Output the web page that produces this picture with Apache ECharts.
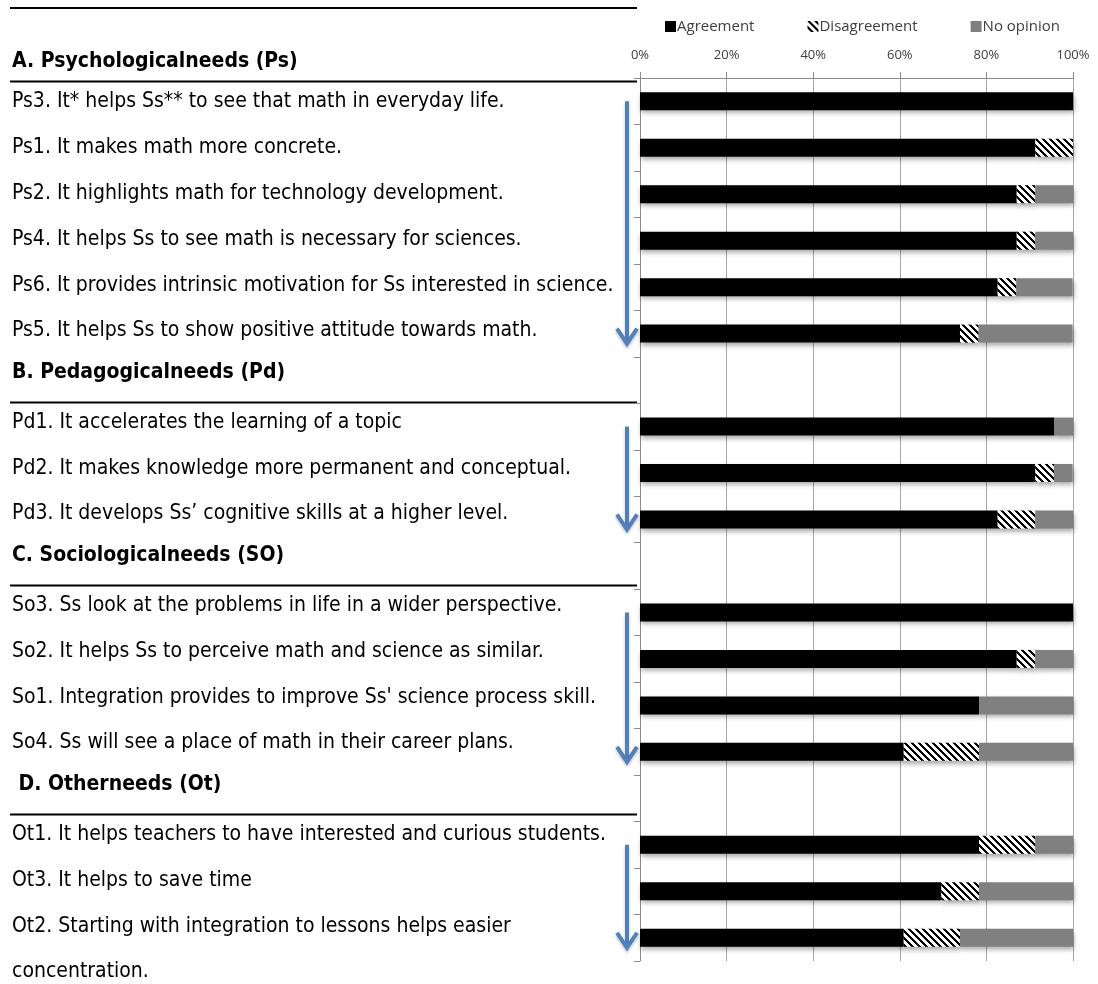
<!DOCTYPE html>
<html>
<head>
<meta charset="utf-8">
<script src="https://cdn.jsdelivr.net/npm/echarts@6/dist/echarts.min.js"></script>
<style>
  html, body { margin: 0; padding: 0; background: #fff; }
  #chart { width: 1098px; height: 984px; }
</style>
</head>
<body>
<div id="chart"></div>
<script>
// Teacher views on integrating math and science, grouped by need type.
// Blank rows in the category list carry the group headings.
const categories = [
  'Ps3. It* helps Ss** to see that math in everyday life.',
  'Ps1. It makes math more concrete.',
  'Ps2. It highlights math for technology development.',
  'Ps4. It helps Ss to see math is necessary for sciences.',
  'Ps6. It provides intrinsic motivation for Ss interested in science.',
  'Ps5. It helps Ss to show positive attitude towards math.',
  'B. Pedagogicalneeds (Pd)',
  'Pd1. It accelerates the learning of a topic',
  'Pd2. It makes knowledge more permanent and conceptual.',
  'Pd3. It develops Ss’ cognitive skills at a higher level.',
  'C. Sociologicalneeds (SO)',
  'So3. Ss look at the problems in life in a wider perspective.',
  'So2. It helps Ss to perceive math and science as similar.',
  "So1. Integration provides to improve Ss' science process skill.",
  'So4. Ss will see a place of math in their career plans.',
  ' D. Otherneeds (Ot)',
  'Ot1. It helps teachers to have interested and curious students.',
  'Ot3. It helps to save time',
  'Ot2. Starting with integration to lessons helps easier'
];
const firstHeading = 'A. Psychologicalneeds (Ps)';
const headingRows = ['B. Pedagogicalneeds (Pd)', 'C. Sociologicalneeds (SO)', ' D. Otherneeds (Ot)'];
const wrappedTail = { 'Ot2. Starting with integration to lessons helps easier': 'concentration.' };

// Percent of respondents per statement ('-' = no bar)
const agreement    = [100, 91.3, 87.0, 87.0, 82.6, 73.9, '-', 95.7, 91.3, 82.6, '-', 100, 87.0, 78.3, 60.9, '-', 78.3, 69.6, 60.9];
const disagreement = ['-', 8.7, 4.3, 4.3, 4.3, 4.3, '-', '-', 4.3, 8.7, '-', '-', 4.3, '-', 17.4, '-', 13.0, 8.7, 13.0];
const noOpinion    = ['-', '-', 8.7, 8.7, 13.0, 21.7, '-', 4.3, 4.3, 8.7, '-', '-', 8.7, 21.7, 21.7, '-', 8.7, 21.7, 26.1];

const xTicks = [0, 20, 40, 60, 80, 100];
const seriesNames = ['Agreement', 'Disagreement', 'No opinion'];

const TEXT_FONT = "'Liberation Sans Narrow', 'Arial Narrow', 'DejaVu Sans Condensed', sans-serif";
const SMALL_FONT = "'Open Sans', Lato, sans-serif";
const ARROW_BLUE = '#4F81BD';

// Black-on-white diagonal hatch for the disagreement segments
function makeHatch() {
  const size = 7;
  const c = document.createElement('canvas');
  c.width = size; c.height = size;
  const ctx = c.getContext('2d');
  ctx.fillStyle = '#ffffff';
  ctx.fillRect(0, 0, size, size);
  ctx.fillStyle = '#000000';
  for (let y = 0; y < size; y++) {
    for (let x = 0; x < size; x++) {
      if ((((x - y) % size) + size) % size < 3) ctx.fillRect(x, y, 1, 1);
    }
  }
  return c;
}
const hatch = { image: makeHatch(), repeat: 'repeat' };

const barShadow = {
  shadowColor: 'rgba(0,0,0,0.35)',
  shadowBlur: 5,
  shadowOffsetX: 1,
  shadowOffsetY: 3
};

const chart = echarts.init(document.getElementById('chart'), null, { renderer: 'canvas' });

const option = {
  animation: false,
  backgroundColor: '#ffffff',
  title: {
    text: firstHeading,
    left: 12,
    top: 51,
    padding: 0,
    textStyle: { fontFamily: TEXT_FONT, fontSize: 21, fontWeight: 'bold', color: '#000' }
  },
  legend: {
    data: seriesNames,
    left: 665,
    top: 19,
    padding: 0,
    itemWidth: 11,
    itemHeight: 11,
    itemGap: 53,
    icon: 'rect',
    textStyle: { fontFamily: SMALL_FONT, fontSize: 15, color: '#404040', padding: [0, 0, 0, -4] }
  },
  grid: [
    // bars
    { left: 640, right: 25, top: 78, bottom: 23, containLabel: false },
    // statement text column
    { left: 640, right: 25, top: 79, height: 870, containLabel: false }
  ],
  xAxis: [
    {
      type: 'value',
      gridIndex: 0,
      position: 'top',
      min: 0,
      max: 100,
      interval: 20,
      axisLine: { show: true, lineStyle: { color: '#8c8c8c', width: 1 } },
      axisTick: { show: true, length: 6, lineStyle: { color: '#8c8c8c' } },
      splitLine: { show: true, lineStyle: { color: '#a6a6a6', width: 1 } },
      axisLabel: {
        margin: 16,
        fontFamily: SMALL_FONT,
        fontSize: 13,
        color: '#404040',
        formatter: v => (xTicks.indexOf(v) >= 0 ? v + '%' : '')
      }
    },
    { type: 'value', gridIndex: 1, min: 0, max: 100, show: false }
  ],
  yAxis: [
    {
      type: 'category',
      gridIndex: 0,
      inverse: true,
      data: categories,
      axisLine: { show: true, lineStyle: { color: '#8c8c8c', width: 1 } },
      axisTick: { show: true, length: 6, lineStyle: { color: '#8c8c8c' } },
      splitLine: { show: false },
      axisLabel: { show: false }
    },
    {
      type: 'category',
      gridIndex: 1,
      inverse: true,
      data: categories,
      axisLine: { show: false },
      axisTick: { show: false },
      splitLine: { show: false },
      axisLabel: {
        align: 'left',
        margin: 628,
        interval: 0,
        fontFamily: TEXT_FONT,
        fontSize: 21,
        color: '#000',
        formatter: name => headingRows.indexOf(name) >= 0 ? '' : name
      }
    }
  ],
  series: [
    {
      name: seriesNames[0], type: 'bar', stack: 'total', barWidth: 18,
      itemStyle: Object.assign({ color: '#000000' }, barShadow),
      data: agreement
    },
    {
      name: seriesNames[1], type: 'bar', stack: 'total', barWidth: 18,
      itemStyle: Object.assign({ color: hatch }, barShadow),
      data: disagreement
    },
    {
      name: seriesNames[2], type: 'bar', stack: 'total', barWidth: 18,
      itemStyle: Object.assign({ color: '#808080' }, barShadow),
      data: noOpinion
    }
  ]
};
chart.setOption(option);

// Headings, table rules and group arrows, placed from the category scales
function barY(idx) { return chart.convertToPixel({ yAxisIndex: 0 }, idx); }
function textY(idx) { return chart.convertToPixel({ yAxisIndex: 1 }, idx); }
const textBand = textY(1) - textY(0);
const graphics = [];

function rule(y) {
  graphics.push({
    type: 'line', silent: true,
    shape: { x1: 10, y1: y, x2: 637, y2: y },
    style: { stroke: '#000', lineWidth: 2 }
  });
}
// top border of the table
rule(8);

// Groups: first and last row index of each block of statements
const groupStarts = [0];
headingRows.forEach(h => groupStarts.push(categories.indexOf(h) + 1));
const groupEnds = headingRows.map(h => categories.indexOf(h) - 1).concat([categories.length - 1]);

groupStarts.forEach(start => {
  rule(Math.round(textY(start) - textBand / 2 + 2) + 0.5);
});

headingRows.forEach(h => {
  const idx = categories.indexOf(h);
  graphics.push({
    type: 'text', silent: true,
    style: {
      text: h, x: 12, y: textY(idx) - 4,
      font: 'bold 21px ' + TEXT_FONT, fill: '#000',
      textVerticalAlign: 'middle', verticalAlign: 'middle'
    }
  });
});

Object.keys(wrappedTail).forEach(name => {
  const idx = categories.indexOf(name);
  graphics.push({
    type: 'text', silent: true,
    style: {
      text: wrappedTail[name], x: 12, y: textY(idx) + textBand,
      font: '21px ' + TEXT_FONT, fill: '#000',
      textVerticalAlign: 'middle', verticalAlign: 'middle'
    }
  });
});

const arrowX = 627;
groupStarts.forEach((start, g) => {
  const top = barY(start);
  const tip = barY(groupEnds[g]) + 10;
  const shadow = { shadowColor: 'rgba(0,0,0,0.25)', shadowBlur: 3, shadowOffsetY: 2 };
  graphics.push({
    type: 'line', silent: true,
    shape: { x1: arrowX, y1: top, x2: arrowX, y2: tip - 3 },
    style: Object.assign({ stroke: ARROW_BLUE, lineWidth: 4 }, shadow)
  });
  graphics.push({
    type: 'polyline', silent: true,
    shape: { points: [[arrowX - 10, tip - 15], [arrowX, tip], [arrowX + 10, tip - 15]] },
    style: Object.assign({ stroke: ARROW_BLUE, lineWidth: 4, fill: null, lineJoin: 'miter' }, shadow)
  });
});

chart.setOption({ graphic: graphics });
</script>
</body>
</html>
